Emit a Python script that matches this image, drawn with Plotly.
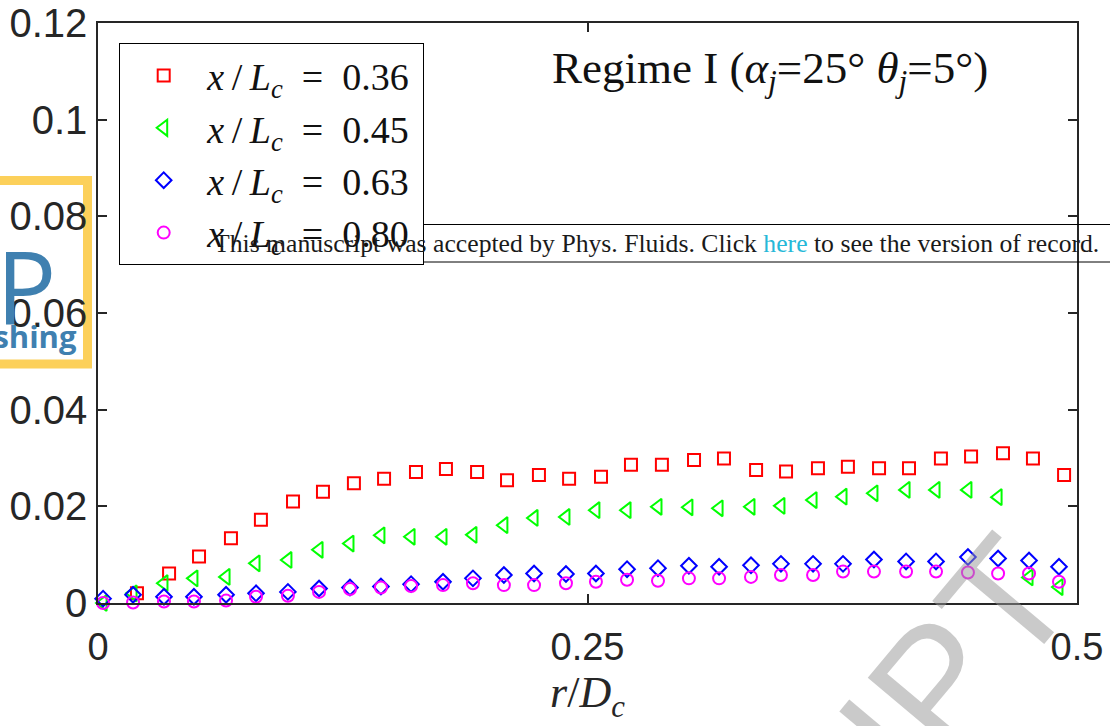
import plotly.graph_objects as go

# ---------------- data ----------------
r_grid = [0.0026, 0.0179, 0.0337, 0.0490, 0.0654, 0.0807, 0.0970, 0.1129, 0.1287, 0.1445,
          0.1599, 0.1762, 0.1915, 0.2073, 0.2227, 0.2390, 0.2543, 0.2702, 0.2860, 0.3018,
          0.3172, 0.3335, 0.3488, 0.3652, 0.3805, 0.3963, 0.4127, 0.4280, 0.4443, 0.4597,
          0.4755, 0.4908]

r_red = [0.0199, 0.0363, 0.0516, 0.0679, 0.0832, 0.0996, 0.1149, 0.1307, 0.1461, 0.1624,
         0.1777, 0.1936, 0.2089, 0.2252, 0.2406, 0.2569, 0.2722, 0.2880, 0.3044, 0.3197,
         0.3361, 0.3514, 0.3677, 0.3830, 0.3989, 0.4142, 0.4305, 0.4459, 0.4622, 0.4775,
         0.4934]

y_036 = [0.0020, 0.0061, 0.0096, 0.0134, 0.0172, 0.0210, 0.0230, 0.0248, 0.0257, 0.0271,
         0.0277, 0.0271, 0.0254, 0.0265, 0.0257, 0.0261, 0.0286, 0.0286, 0.0296, 0.0299,
         0.0275, 0.0272, 0.0279, 0.0282, 0.0279, 0.0279, 0.0299, 0.0303, 0.0310, 0.0299,
         0.0265]

y_045 = [0.0000, 0.0020, 0.0041, 0.0051, 0.0054, 0.0082, 0.0089, 0.0110, 0.0123, 0.0140,
         0.0137, 0.0137, 0.0141, 0.0161, 0.0176, 0.0178, 0.0192, 0.0192, 0.0199, 0.0198,
         0.0196, 0.0199, 0.0201, 0.0213, 0.0220, 0.0227, 0.0234, 0.0234, 0.0234, 0.0219,
         0.0053, 0.0033]

y_063 = [0.0009, 0.0017, 0.0013, 0.0013, 0.0017, 0.0020, 0.0023, 0.0030, 0.0032, 0.0034,
         0.0039, 0.0044, 0.0051, 0.0058, 0.0061, 0.0060, 0.0061, 0.0070, 0.0072, 0.0077,
         0.0075, 0.0078, 0.0081, 0.0081, 0.0081, 0.0090, 0.0086, 0.0086, 0.0095, 0.0092,
         0.0088, 0.0075]

y_080 = [0.0000, 0.0001, 0.0003, 0.0003, 0.0005, 0.0013, 0.0015, 0.0023, 0.0029, 0.0032,
         0.0035, 0.0037, 0.0041, 0.0037, 0.0037, 0.0041, 0.0044, 0.0048, 0.0046, 0.0051,
         0.0051, 0.0054, 0.0058, 0.0058, 0.0065, 0.0065, 0.0065, 0.0065, 0.0063, 0.0061,
         0.0061, 0.0044]

series_labels = ["0.36", "0.45", "0.63", "0.80"]
x_ticks = [0, 0.25, 0.5]
x_ticklabels = ["0", "0.25", "0.5"]
y_ticks = [0, 0.02, 0.04, 0.06, 0.08, 0.1, 0.12]
y_ticklabels = ["0", "0.02", "0.04", "0.06", "0.08", "0.1", "0.12"]

# ---------------- layout helpers ----------------
W, H = 1110, 726
L, R, T, B = 98, 33, 23, 123
PW, PH = W - L - R, H - T - B


def px(xp):
    return (xp - L) / PW


def py(yp):
    return (H - B - yp) / PH


SERIF = "Liberation Serif, Times New Roman, serif"
SANS = "Liberation Sans, Arial, sans-serif"
AXC = "#262626"

fig = go.Figure()

styles = [
    (r_red, y_036, "square-open", "#ff0000", 12),
    (r_grid, y_045, "triangle-left-open", "#00ff00", 14),
    (r_grid, y_063, "diamond-open", "#0000ff", 12),
    (r_grid, y_080, "circle-open", "#ff00ff", 12),
]
for (xs, ys, sym, col, sz), lab in zip(styles, series_labels):
    fig.add_trace(go.Scatter(
        x=xs, y=ys, mode="markers",
        name="<i>x</i>\u2009/\u2009<i>L</i><sub><i>c</i></sub>\u2002=\u2002" + lab + "\u2009",
        marker=dict(symbol=sym, size=sz, color=col, line=dict(color=col, width=2)),
        cliponaxis=False,
    ))

axis_common = dict(
    showline=True, linecolor=AXC, linewidth=1.5, mirror="ticks",
    ticks="inside", ticklen=9, tickwidth=1.5, tickcolor=AXC,
    showgrid=False, zeroline=False, automargin=False,
)

fig.update_xaxes(
    range=[0, 0.5], tickvals=x_ticks, ticktext=x_ticklabels,
    ticklabelstandoff=10,
    tickfont=dict(family=SANS, size=38, color=AXC),
    title=dict(text="<i>r</i>/<i>D</i><sub><i>c</i></sub>",
               font=dict(family=SERIF, size=44, color=AXC), standoff=2),
    **axis_common,
)
fig.update_yaxes(
    range=[0, 0.12], tickvals=y_ticks, ticktext=y_ticklabels,
    ticklabelstandoff=1,
    tickfont=dict(family=SANS, size=40, color=AXC),
    **axis_common,
)

shapes = []
annotations = []

# AIP Publishing logo frame (left edge)
shapes.append(dict(type="rect", xref="paper", yref="paper",
                   x0=px(-20), x1=px(87.5), y0=py(180.5), y1=py(364),
                   line=dict(color="#fcd05a", width=9), fillcolor="rgba(0,0,0,0)",
                   layer="below"))
annotations.append(dict(xref="paper", yref="paper", x=px(58), y=py(285),
                        xanchor="right", yanchor="middle", showarrow=False,
                        text="AIP", font=dict(family="Open Sans, sans-serif",
                                              size=100, color="#3f80b0")))
annotations.append(dict(xref="paper", yref="paper", x=px(79), y=py(336),
                        xanchor="right", yanchor="middle", showarrow=False,
                        text="<b>Publishing</b>", font=dict(family="Open Sans, sans-serif",
                                                             size=31, color="#3f80b0")))

# "accepted manuscript" banner
shapes.append(dict(type="rect", xref="paper", yref="paper",
                   x0=px(167), x1=px(1125), y0=py(224.5), y1=py(262),
                   line=dict(color="#000000", width=1), fillcolor="rgba(0,0,0,0)"))
annotations.append(dict(xref="paper", yref="paper", x=px(212), y=py(243),
                        xanchor="left", yanchor="middle", showarrow=False,
                        text="This manuscript was accepted by Phys. Fluids. Click "
                             "<span style='color:#26b8d8'>here</span> to see the version of record.",
                        font=dict(family=SERIF, size=25.7, color="#1a1a1a")))

# Regime label
annotations.append(dict(xref="paper", yref="paper", x=px(550), y=py(71),
                        xanchor="left", yanchor="middle", showarrow=False,
                        text="Regime I (<i>α</i><sub><i>j</i></sub>=25° "
                             "<i>θ</i><sub><i>j</i></sub>=5°)",
                        font=dict(family=SERIF, size=45, color="#111111")))

# Watermark
annotations.append(dict(xref="paper", yref="paper", x=px(843), y=py(795),
                        xanchor="center", yanchor="middle", showarrow=False,
                        textangle=-50, text="SCRIPT",
                        font=dict(family="Liberation Sans Narrow, Liberation Sans, sans-serif",
                                  size=165, color="rgba(150,150,150,0.5)")))

fig.update_layout(
    width=W, height=H, autosize=False,
    margin=dict(l=L, r=R, t=T, b=B, pad=0, autoexpand=False),
    paper_bgcolor="white", plot_bgcolor="white",
    showlegend=True,
    legend=dict(x=px(119), y=py(43), xanchor="left", yanchor="top",
                bgcolor="white", bordercolor="#000000", borderwidth=1.2,
                font=dict(family=SERIF, size=38, color="#111111"),
                itemwidth=77, tracegroupgap=0),
    shapes=shapes, annotations=annotations,
)

fig.write_html("out.html")
